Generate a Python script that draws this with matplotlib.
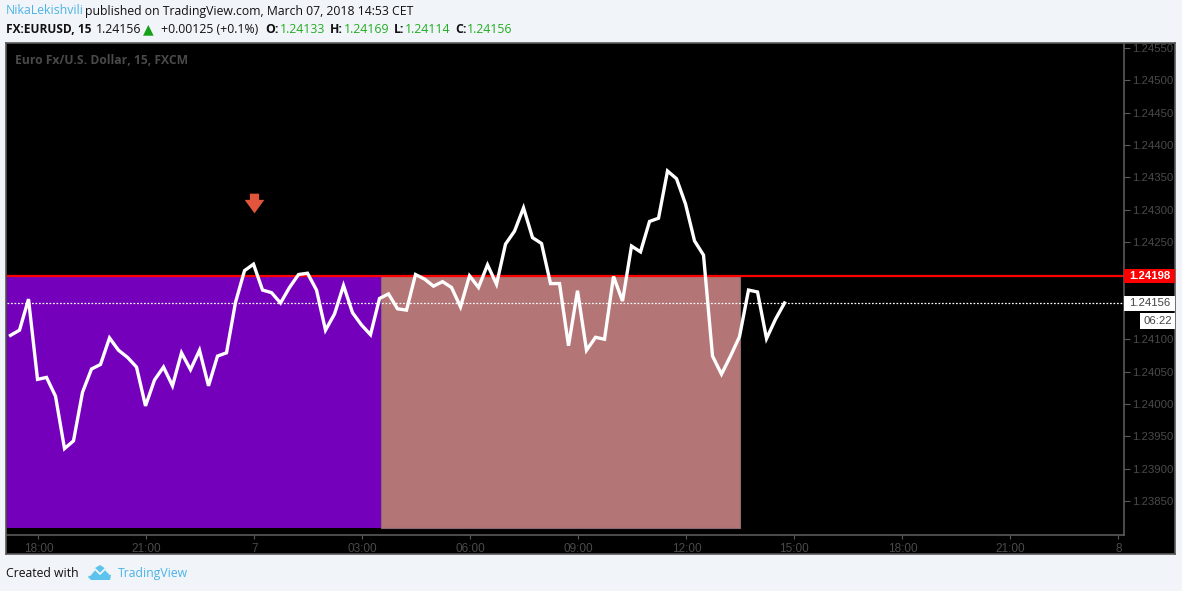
import matplotlib
matplotlib.use("Agg")
import matplotlib.pyplot as plt
from matplotlib.path import Path
from matplotlib.patches import Rectangle, Polygon
from matplotlib.transforms import Affine2D

closes = [1.24106, 1.24114, 1.24162, 1.24038, 1.24041, 1.24012, 1.23931, 1.23943, 1.24018, 1.24054,
          1.24061, 1.24102, 1.24083, 1.24072, 1.24057, 1.23997, 1.24037, 1.24057, 1.24028, 1.24079,
          1.24053, 1.24083, 1.24028, 1.24074, 1.24079, 1.24157, 1.24206, 1.24216, 1.24176, 1.24172,
          1.24156, 1.24180, 1.24200, 1.24202, 1.24176, 1.24114, 1.24139, 1.24183, 1.24141, 1.24122,
          1.24107, 1.24163, 1.24170, 1.24147, 1.24145, 1.24200, 1.24193, 1.24182, 1.24189, 1.24180,
          1.24150, 1.24198, 1.24180, 1.24215, 1.24185, 1.24247, 1.24267, 1.24303, 1.24257, 1.24248,
          1.24186, 1.24186, 1.24090, 1.24175, 1.24083, 1.24103, 1.24100, 1.24197, 1.24159, 1.24244,
          1.24235, 1.24282, 1.24287, 1.24360, 1.24348, 1.24309, 1.24252, 1.24230, 1.24074, 1.24046,
          1.24074, 1.24104, 1.24176, 1.24173, 1.24101, 1.24131, 1.24156]
price_ticks = [1.24550, 1.24500, 1.24450, 1.24400, 1.24350, 1.24300, 1.24250,
               1.24100, 1.24050, 1.24000, 1.23950, 1.23900, 1.23850]
time_ticks = [3.1, 15.1, 27.1, 39.1, 51.1, 63.1, 75.1, 87.1, 99.1, 111.1, 123.1]
time_labels = ["18:00", "21:00", "7", "03:00", "06:00", "09:00", "12:00", "15:00", "18:00", "21:00", "8"]
resistance = 1.24198
last_price = 1.24156
zone_low = 1.23808
zone_purple = (-0.39, 41.2)
zone_brown = (41.2, 81.1)
signal_bar, signal_price = 27.1, 1.24310

W, H = 1182, 591
BG = "#f1f4f8"
FONT = "Open Sans"
AXFONT = "Liberation Sans"
plt.rcParams["font.family"] = FONT

fig = plt.figure(figsize=(W / 100, H / 100), dpi=100, facecolor=BG)


def box(x0, y0, x1, y1):
    return [x0 / W, 1 - y1 / H, (x1 - x0) / W, (y1 - y0) / H]


def T(x, y, s, color="#111111", size=8.85, weight="normal", ha="left", **kw):
    return fig.text(x / W, 1 - y / H, s, color=color, fontsize=size, fontweight=weight,
                    ha=ha, va="center", **kw)


frame = fig.add_axes(box(6, 43, 1175, 554), facecolor="black", zorder=0)
frame.set_xticks([])
frame.set_yticks([])
for s in frame.spines.values():
    s.set_color("#5a5a5a")
    s.set_linewidth(1.2)

ax = fig.add_axes(box(7, 44, 1124, 535), facecolor="black", zorder=1)
ax.set_xlim(-0.39, 123.72)
ax.set_ylim(1.237975, 1.245562)
for side in ("top", "left"):
    ax.spines[side].set_visible(False)
for side in ("bottom", "right"):
    ax.spines[side].set_color("#5a5a5a")
    ax.spines[side].set_linewidth(1.2)

ax.yaxis.tick_right()
ax.set_yticks(price_ticks)
ax.set_yticklabels([f"{p:.5f}" for p in price_ticks], fontsize=8.2, color="#4a4a4a", family=AXFONT)
ax.tick_params(axis="y", length=4, width=0.8, color="#5a5a5a", pad=2)
ax.set_xticks(time_ticks)
ax.set_xticklabels(time_labels, fontsize=8.5, color="#4a4a4a", family=AXFONT)
ax.tick_params(axis="x", length=3, width=0.8, color="#5a5a5a", pad=2.5)

ax.add_patch(Rectangle((zone_purple[0], zone_low), zone_purple[1] - zone_purple[0],
                       resistance - zone_low, facecolor="#7400bb", edgecolor="none", zorder=1))
ax.add_patch(Rectangle((zone_brown[0], zone_low), zone_brown[1] - zone_brown[0],
                       resistance - zone_low, facecolor="#b37575", edgecolor="#8a6a70",
                       linewidth=0.8, zorder=1))
ax.axhline(resistance, color="#ff0000", lw=1.6, zorder=2)
ax.axhline(last_price, color="white", lw=0.9, ls=(0, (1.4, 1.4)), zorder=2)
ax.plot(range(len(closes)), closes, color="white", lw=2.4, solid_joinstyle="miter", zorder=3)

arrow = Path([(-0.47, 1), (0.47, 1), (0.47, 0.37), (1, 0.37), (0, -1), (-1, 0.37), (-0.47, 0.37), (-0.47, 1)],
             closed=True)
ax.plot([signal_bar], [signal_price], marker=arrow, ms=14.2, color="#e0553c", mec="none", zorder=4)

fig.patches.extend([
    Rectangle((1124 / W, 1 - 283 / H), 51 / W, 14 / H, transform=fig.transFigure, facecolor="#ff0000", edgecolor="none", zorder=5),
    Rectangle((1124 / W, 1 - 311 / H), 51 / W, 15 / H, transform=fig.transFigure, facecolor="white", edgecolor="none", zorder=5),
    Rectangle((1140 / W, 1 - 329 / H), 35 / W, 16 / H, transform=fig.transFigure, facecolor="white", edgecolor="none", zorder=5),
])
T(1150, 276, "1.24198", color="white", size=8.2, weight="bold", ha="center", zorder=6, family=AXFONT)
T(1150, 303.5, "1.24156", color="#444444", size=8.2, ha="center", zorder=6, family=AXFONT)
T(1157.5, 321, "06:22", color="#444444", size=8.2, ha="center", zorder=6, family=AXFONT)

T(15, 61, "Euro Fx/U.S. Dollar, 15, FXCM", color="#4a4a4a", size=8.75, weight="bold", zorder=6)

BLUE = "#4bb4e6"
GREEN = "#22ad22"
T(6, 11, "NikaLekishvili", color=BLUE)
T(85, 11, "published on TradingView.com, March 07, 2018 14:53 CET")
T(6, 29.5, "FX:EURUSD, 15", size=8.6, weight="bold")
T(96, 29.5, "1.24156")
T(148.5, 29.5, "\u25b2", color="#15a015", size=10, ha="center", family="DejaVu Sans")
T(161, 29.5, "+0.00125 (+0.1%)")
for x, s in [(265, "O:"), (330, "H:"), (394, "L:"), (455, "C:")]:
    T(x, 29.5, s, weight="bold")
for x, s in [(280, "1.24133"), (344, "1.24169"), (405, "1.24114"), (467, "1.24156")]:
    T(x, 29.5, s, color=GREEN)

T(6, 573.5, "Created with")
T(118, 573.5, "TradingView", color=BLUE)
logo_tf = Affine2D().scale(1 / W, -1 / H).translate(0, 1) + fig.transFigure
fig.add_artist(Polygon([(88, 577), (95, 568), (100, 565), (106, 569), (111, 575), (110, 580), (91, 580)],
                       closed=True, facecolor="#5cc4ec", edgecolor="none", transform=logo_tf))
fig.add_artist(plt.Line2D([90, 95, 100, 105, 110], [575, 569, 574, 569, 574], color=BG, lw=1.3,
                          transform=logo_tf))

fig.savefig("out.png", dpi=100, facecolor=BG)
